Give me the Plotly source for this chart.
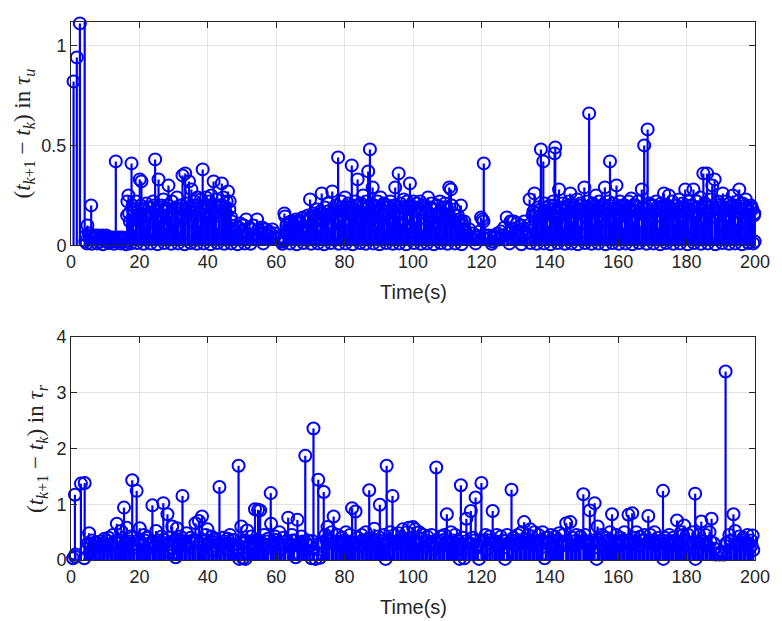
import plotly.graph_objects as go

# ---------------- data ----------------
# Top panel: (event time t_k [s], inter-event interval (t_{k+1}-t_k) in tau_u)
top_early = [(0.75, 0.82), (1.7, 0.94), (2.6, 1.11), (4.0, 1.12)]

top_seg_4_17 = [(4.2, 0.02), (4.4, 0.05), (4.8, 0.10), (5.2, 0.06), (5.6, 0.04), (5.9, 0.20),
                (6.3, 0.05), (6.7, 0.03), (7.1, 0.05), (7.5, 0.04), (7.9, 0.05), (8.3, 0.02),
                (8.7, 0.04), (9.1, 0.05), (9.5, 0.03), (9.9, 0.04), (10.3, 0.05), (10.7, 0.02),
                (11.1, 0.04), (11.5, 0.04), (11.9, 0.03), (12.3, 0.04), (12.7, 0.02), (13.1, 0.42),
                (13.5, 0.04), (13.9, 0.03), (14.3, 0.04), (14.7, 0.02), (15.1, 0.04), (15.5, 0.03),
                (15.9, 0.035), (16.3, 0.02)]

top_seg_17_47 = [(16.4, 0.15), (16.5, 0.22), (16.8, 0.25), (17.2, 0.12), (17.7, 0.41), (18.0, 0.20),
                 (18.5, 0.08), (19.0, 0.22), (19.5, 0.15), (20.1, 0.33), (20.6, 0.32), (21.0, 0.18),
                 (21.5, 0.10), (22.0, 0.21), (22.5, 0.14), (23.0, 0.19), (23.5, 0.06), (24.0, 0.22),
                 (24.6, 0.43), (25.0, 0.17), (25.6, 0.33), (26.0, 0.12), (26.5, 0.20), (27.0, 0.23),
                 (27.5, 0.09), (28.0, 0.18), (28.5, 0.30), (29.0, 0.15), (29.5, 0.22), (30.0, 0.11),
                 (30.5, 0.19), (31.0, 0.24), (31.5, 0.07), (32.0, 0.20), (32.6, 0.35), (33.0, 0.14),
                 (33.4, 0.36), (34.0, 0.21), (34.5, 0.32), (35.2, 0.28), (35.5, 0.12), (36.0, 0.22),
                 (36.5, 0.17), (37.0, 0.24), (37.5, 0.10), (38.0, 0.23), (38.5, 0.38), (39.0, 0.19),
                 (39.5, 0.24), (40.0, 0.13), (40.5, 0.22), (41.0, 0.25), (41.7, 0.32), (42.0, 0.16),
                 (42.5, 0.23), (43.0, 0.09), (43.5, 0.20), (44.1, 0.31), (44.5, 0.24), (45.0, 0.18),
                 (45.5, 0.22), (45.9, 0.27), (46.4, 0.22), (47.0, 0.12)]

top_fill_17_47 = [(17.0, 0.16), (18.2, 0.18), (19.3, 0.14), (20.4, 0.20), (21.3, 0.15), (22.3, 0.19),
                  (23.3, 0.16), (24.3, 0.20), (25.3, 0.15), (26.3, 0.19), (27.3, 0.17), (28.3, 0.20),
                  (29.3, 0.14), (30.3, 0.18), (31.3, 0.16), (32.3, 0.20), (33.3, 0.17), (34.3, 0.19),
                  (35.3, 0.15), (36.3, 0.20), (37.3, 0.16), (38.3, 0.19), (39.3, 0.17), (40.3, 0.20),
                  (41.3, 0.15), (42.3, 0.19), (43.3, 0.17), (44.3, 0.20), (45.3, 0.16), (46.3, 0.18),
                  (46.8, 0.14)]

top_seg_47_61 = [(47.5, 0.08), (48.0, 0.10), (48.5, 0.05), (49.0, 0.09), (49.5, 0.11), (50.0, 0.07),
                 (50.5, 0.10), (51.2, 0.13), (51.7, 0.06), (52.2, 0.09), (52.7, 0.08), (53.2, 0.10),
                 (53.7, 0.05), (54.4, 0.13), (54.9, 0.08), (55.4, 0.07), (55.9, 0.09), (56.4, 0.06),
                 (56.9, 0.08), (57.4, 0.05), (57.9, 0.07), (58.4, 0.06), (58.9, 0.08), (59.4, 0.04),
                 (59.9, 0.06), (60.4, 0.03), (60.9, 0.04), (61.4, 0.02)]

top_seg_62_116 = [(62.0, 0.02), (62.4, 0.16), (62.6, 0.145), (62.8, 0.06), (63.3, 0.11), (63.8, 0.08),
                  (64.3, 0.12), (64.8, 0.07), (65.3, 0.10), (65.8, 0.13), (66.3, 0.06), (66.8, 0.12),
                  (67.3, 0.09), (67.8, 0.14), (68.3, 0.07), (68.8, 0.12), (69.3, 0.15), (69.9, 0.23),
                  (70.4, 0.10), (70.9, 0.16), (71.4, 0.13), (71.9, 0.18), (72.4, 0.08), (72.9, 0.17),
                  (73.3, 0.26), (73.8, 0.12), (74.3, 0.19), (74.8, 0.15), (75.3, 0.21), (75.8, 0.09),
                  (76.4, 0.27), (76.9, 0.16), (77.4, 0.20), (78.1, 0.44), (78.6, 0.13), (79.1, 0.22),
                  (79.6, 0.18), (80.1, 0.24), (80.6, 0.11), (81.1, 0.21), (81.6, 0.17), (82.1, 0.40),
                  (82.6, 0.14), (83.1, 0.22), (83.8, 0.33), (84.3, 0.12), (84.8, 0.21), (85.4, 0.25),
                  (85.9, 0.16), (86.4, 0.22), (86.9, 0.37), (87.4, 0.48), (87.9, 0.13), (88.2, 0.29),
                  (88.7, 0.20), (89.2, 0.10), (89.7, 0.22), (90.5, 0.24), (91.0, 0.15), (91.5, 0.21),
                  (92.0, 0.08), (92.4, 0.20), (92.9, 0.17), (93.4, 0.22), (93.9, 0.12), (94.4, 0.20),
                  (94.8, 0.29), (95.3, 0.15), (95.8, 0.36), (96.3, 0.21), (96.8, 0.11), (97.3, 0.23),
                  (97.8, 0.18), (98.3, 0.22), (98.8, 0.09), (99.1, 0.31), (99.6, 0.19), (100.1, 0.22),
                  (100.6, 0.12), (101.1, 0.21), (101.6, 0.17), (102.1, 0.22), (102.6, 0.08), (103.1, 0.20),
                  (103.6, 0.16), (104.4, 0.24), (104.9, 0.13), (105.4, 0.21), (105.9, 0.18), (106.4, 0.10),
                  (106.9, 0.20), (107.4, 0.15), (107.9, 0.22), (108.4, 0.12), (108.9, 0.19), (109.4, 0.21),
                  (109.9, 0.14), (110.6, 0.29), (111.1, 0.28), (111.6, 0.12), (112.1, 0.18), (112.6, 0.09),
                  (113.1, 0.15), (113.6, 0.11), (114.0, 0.20), (114.5, 0.08), (115.0, 0.12), (115.5, 0.06)]

top_fill_62_116 = [(63.0, 0.10), (64.0, 0.11), (65.0, 0.09), (66.0, 0.12), (67.0, 0.11), (68.0, 0.13),
                   (69.0, 0.12), (70.1, 0.14), (71.1, 0.15), (72.1, 0.14), (73.1, 0.16), (74.1, 0.15),
                   (75.1, 0.17), (76.1, 0.16), (77.1, 0.18), (78.3, 0.17), (79.3, 0.19), (80.3, 0.17),
                   (81.3, 0.19), (82.3, 0.18), (83.3, 0.20), (84.1, 0.17), (85.1, 0.19), (86.1, 0.18),
                   (87.1, 0.20), (88.0, 0.17), (89.0, 0.19), (90.0, 0.18), (91.2, 0.20), (92.2, 0.17),
                   (93.1, 0.19), (94.1, 0.18), (95.1, 0.20), (96.1, 0.17), (97.1, 0.19), (98.1, 0.18),
                   (99.3, 0.20), (100.3, 0.17), (101.3, 0.19), (102.3, 0.18), (103.3, 0.20), (104.1, 0.17),
                   (105.1, 0.19), (106.1, 0.18), (107.1, 0.20), (108.1, 0.17), (109.1, 0.19), (110.1, 0.18),
                   (111.3, 0.20), (112.3, 0.15), (113.3, 0.13), (114.2, 0.12), (114.8, 0.10), (115.2, 0.08)]

top_seg_116_135 = [(116.0, 0.05), (116.5, 0.08), (117.0, 0.04), (117.5, 0.06), (118.0, 0.03), (118.5, 0.05),
                   (119.0, 0.04), (119.5, 0.07), (119.9, 0.14), (120.3, 0.13), (120.6, 0.12), (120.7, 0.41),
                   (121.2, 0.05), (121.7, 0.03), (122.2, 0.05), (122.7, 0.04), (123.2, 0.02), (123.7, 0.05),
                   (124.2, 0.04), (124.7, 0.06), (125.2, 0.03), (125.7, 0.07), (126.2, 0.05), (126.7, 0.09),
                   (127.4, 0.14), (127.9, 0.06), (128.5, 0.12), (129.0, 0.08), (129.5, 0.12), (130.0, 0.07),
                   (130.5, 0.11), (131.0, 0.05), (131.5, 0.10), (132.0, 0.08), (132.5, 0.12), (133.0, 0.06),
                   (133.5, 0.10), (134.1, 0.23), (134.6, 0.09)]

top_seg_135_200 = [(135.0, 0.15), (135.5, 0.26), (136.0, 0.12), (136.5, 0.19), (137.0, 0.08), (137.4, 0.48),
                   (137.8, 0.14), (138.1, 0.42), (138.5, 0.21), (139.0, 0.17), (139.5, 0.10), (140.0, 0.20),
                   (140.5, 0.15), (141.0, 0.22), (141.4, 0.46), (141.6, 0.49), (142.1, 0.13), (142.7, 0.28),
                   (143.2, 0.18), (143.7, 0.21), (144.2, 0.09), (144.7, 0.19), (145.2, 0.16), (145.6, 0.22),
                   (146.0, 0.26), (146.5, 0.12), (147.0, 0.20), (147.5, 0.17), (148.0, 0.23), (148.5, 0.10),
                   (149.0, 0.21), (149.4, 0.18), (150.1, 0.29), (150.6, 0.14), (151.0, 0.22), (151.5, 0.66),
                   (152.0, 0.17), (152.5, 0.21), (153.0, 0.11), (153.5, 0.25), (154.0, 0.18), (154.5, 0.22),
                   (155.0, 0.13), (155.5, 0.20), (156.1, 0.29), (156.6, 0.16), (157.1, 0.22), (157.6, 0.42),
                   (158.1, 0.12), (158.6, 0.21), (159.0, 0.18), (159.5, 0.30), (160.0, 0.14), (160.5, 0.22),
                   (161.0, 0.19), (161.5, 0.09), (162.0, 0.20), (162.5, 0.16), (163.0, 0.22), (163.8, 0.235),
                   (164.3, 0.12), (164.8, 0.20), (165.3, 0.17), (165.8, 0.22), (166.3, 0.10), (166.9, 0.28),
                   (167.3, 0.19), (167.6, 0.50), (168.1, 0.15), (168.6, 0.58), (169.1, 0.21), (169.6, 0.13),
                   (170.1, 0.20), (170.6, 0.17), (171.1, 0.22), (171.6, 0.09), (172.1, 0.19), (172.6, 0.21),
                   (173.4, 0.26), (173.9, 0.14), (174.4, 0.20), (174.8, 0.25), (175.3, 0.16), (175.8, 0.22),
                   (176.3, 0.11), (176.8, 0.20), (177.3, 0.18), (177.8, 0.23), (178.3, 0.13), (178.8, 0.21),
                   (179.6, 0.28), (180.1, 0.17), (180.6, 0.22), (181.1, 0.09), (181.6, 0.20), (182.0, 0.28),
                   (182.5, 0.15), (183.0, 0.22), (183.5, 0.19), (184.0, 0.24), (184.5, 0.12), (184.9, 0.36),
                   (185.4, 0.21), (186.0, 0.36), (186.5, 0.16), (187.0, 0.23), (187.5, 0.30), (188.2, 0.33),
                   (188.7, 0.14), (189.2, 0.22), (189.7, 0.19), (190.2, 0.10), (190.6, 0.26), (191.1, 0.18),
                   (191.6, 0.22), (192.1, 0.13), (192.6, 0.21), (193.0, 0.17), (193.5, 0.25), (194.0, 0.20),
                   (194.5, 0.11), (195.0, 0.22), (195.4, 0.28), (195.9, 0.16), (196.4, 0.21), (196.9, 0.12),
                   (197.3, 0.23), (197.8, 0.19), (198.3, 0.15), (198.8, 0.20), (199.2, 0.18), (199.7, 0.15),
                   (199.9, 0.02)]

top_fill_135_200 = [(135.2, 0.17), (136.2, 0.16), (137.2, 0.18), (138.3, 0.17), (139.2, 0.19), (140.2, 0.18),
                    (141.2, 0.20), (142.3, 0.17), (143.4, 0.19), (144.4, 0.18), (145.4, 0.20), (146.3, 0.17),
                    (147.2, 0.19), (148.2, 0.18), (149.2, 0.20), (150.3, 0.17), (151.2, 0.19), (152.2, 0.18),
                    (153.2, 0.20), (154.2, 0.17), (155.2, 0.19), (156.3, 0.18), (157.3, 0.20), (158.3, 0.17),
                    (159.2, 0.19), (160.2, 0.18), (161.2, 0.20), (162.2, 0.17), (163.3, 0.19), (164.1, 0.18),
                    (165.1, 0.20), (166.1, 0.17), (167.1, 0.19), (168.3, 0.18), (169.3, 0.20), (170.3, 0.17),
                    (171.3, 0.19), (172.3, 0.18), (173.1, 0.20), (174.1, 0.17), (175.1, 0.19), (176.1, 0.18),
                    (177.1, 0.20), (178.1, 0.17), (179.1, 0.19), (180.3, 0.18), (181.3, 0.20), (182.2, 0.17),
                    (183.2, 0.19), (184.2, 0.18), (185.2, 0.20), (186.2, 0.17), (187.2, 0.19), (188.4, 0.18),
                    (189.4, 0.20), (190.4, 0.17), (191.3, 0.19), (192.4, 0.18), (193.3, 0.20), (194.2, 0.17),
                    (195.2, 0.19), (196.2, 0.18), (197.1, 0.20), (198.1, 0.17), (199.0, 0.19), (199.8, 0.16)]

top_near_zero = [(4.6, 0.01), (6.0, 0.008), (7.7, 0.01), (9.3, 0.006), (11.0, 0.012), (12.6, 0.008),
                 (14.5, 0.01), (16.1, 0.006), (17.5, 0.01), (19.3, 0.012), (21.2, 0.008), (23.3, 0.01),
                 (25.3, 0.006), (27.3, 0.012), (29.3, 0.008), (31.3, 0.01), (33.2, 0.006), (35.0, 0.012),
                 (36.8, 0.008), (38.8, 0.01), (40.8, 0.006), (42.8, 0.012), (44.8, 0.008), (46.8, 0.01),
                 (48.7, 0.006), (50.8, 0.01), (52.5, 0.008), (56.2, 0.01), (61.8, 0.008), (64.0, 0.01),
                 (66.0, 0.006), (68.0, 0.012), (70.2, 0.008), (72.2, 0.01), (74.0, 0.006), (76.0, 0.012),
                 (78.3, 0.008), (80.3, 0.01), (82.3, 0.006), (84.5, 0.012), (86.2, 0.008), (88.4, 0.01),
                 (90.2, 0.006), (92.2, 0.012), (94.1, 0.008), (96.0, 0.01), (98.0, 0.006), (100.3, 0.012),
                 (102.3, 0.008), (104.1, 0.01), (106.1, 0.006), (108.1, 0.012), (110.1, 0.008), (112.3, 0.01),
                 (114.2, 0.006), (118.3, 0.01), (123.0, 0.008), (128.2, 0.01), (131.7, 0.006), (134.3, 0.012),
                 (136.2, 0.008), (138.3, 0.01), (140.2, 0.006), (142.3, 0.012), (144.4, 0.008), (146.3, 0.01),
                 (148.2, 0.006), (150.3, 0.012), (152.2, 0.008), (154.2, 0.01), (156.3, 0.006), (158.3, 0.012),
                 (160.2, 0.008), (162.2, 0.01), (164.1, 0.006), (166.1, 0.012), (168.3, 0.008), (170.3, 0.01),
                 (172.3, 0.006), (174.1, 0.012), (176.1, 0.008), (178.1, 0.01), (180.3, 0.006), (182.2, 0.012),
                 (184.2, 0.008), (186.2, 0.01), (188.4, 0.006), (190.4, 0.012), (192.4, 0.008), (194.2, 0.01),
                 (196.2, 0.006), (198.1, 0.012), (199.5, 0.01)]

# Bottom panel: (event time t_k [s], inter-event interval (t_{k+1}-t_k) in tau_r)
bot_seg_0_50 = [(0.6, 0.03), (1.15, 1.17), (1.2, 0.06), (1.3, 0.1), (2.9, 1.37), (3.9, 0.03), (4.0, 1.38),
                (4.5, 0.2), (5.0, 0.3), (5.3, 0.48), (5.6, 0.15), (6.2, 0.35), (6.8, 0.22), (7.4, 0.3),
                (8.0, 0.12), (8.6, 0.33), (9.2, 0.25), (9.8, 0.38), (10.4, 0.18), (11.0, 0.4), (11.6, 0.28),
                (12.2, 0.45), (12.8, 0.2), (13.4, 0.65), (14.0, 0.32), (14.6, 0.52), (15.2, 0.25),
                (15.5, 0.94), (16.3, 0.58), (16.8, 0.3), (17.4, 0.42), (17.9, 1.43), (18.5, 0.22),
                (19.2, 1.24), (19.6, 0.35), (20.1, 0.57), (20.7, 0.28), (21.3, 0.45), (21.9, 0.18),
                (22.5, 0.4), (23.1, 0.3), (23.8, 0.98), (24.4, 0.25), (24.9, 0.52), (25.5, 0.35),
                (26.1, 0.2), (26.5, 0.42), (27.0, 1.02), (27.6, 0.3), (28.2, 0.82), (28.8, 0.15),
                (29.6, 0.6), (30.2, 0.35), (30.6, 0.05), (31.0, 0.57), (31.6, 0.28), (32.0, 0.42),
                (32.6, 1.15), (33.2, 0.3), (33.8, 0.48), (34.4, 0.22), (35.0, 0.4), (35.6, 0.3),
                (36.4, 0.66), (37.0, 0.35), (37.4, 0.7), (38.3, 0.78), (38.9, 0.25), (39.4, 0.45),
                (39.9, 0.55), (40.5, 0.3), (41.1, 0.42), (41.7, 0.18), (42.3, 0.38), (42.9, 0.3),
                (43.4, 1.31), (44.0, 0.25), (44.6, 0.4), (45.2, 0.2), (45.8, 0.38), (46.5, 0.45),
                (47.1, 0.28), (47.7, 0.35), (48.3, 0.15), (49.0, 1.69), (49.2, 0.02), (49.8, 0.6)]

bot_seg_50_100 = [(50.3, 0.03), (50.6, 0.35), (51.0, 0.02), (51.5, 0.53), (52.1, 0.28), (52.7, 0.42),
                  (53.2, 0.2), (53.8, 0.91), (54.2, 0.35), (54.7, 0.9), (55.3, 0.89), (55.9, 0.3),
                  (56.5, 0.45), (57.0, 0.2), (57.6, 0.38), (58.4, 1.2), (58.5, 0.65), (59.1, 0.25),
                  (59.7, 0.42), (60.3, 0.3), (60.9, 0.5), (61.5, 0.2), (62.1, 0.4), (62.7, 0.32),
                  (63.5, 0.76), (64.0, 0.25), (64.6, 0.45), (65.2, 0.35), (65.7, 0.05), (66.2, 0.72),
                  (66.8, 0.3), (67.4, 0.42), (68.0, 0.2), (68.5, 1.87), (68.6, 0.19), (69.2, 0.35),
                  (69.8, 0.25), (70.3, 0.03), (70.9, 2.36), (71.5, 0.02), (72.3, 1.44), (72.8, 0.04),
                  (73.3, 0.3), (73.9, 1.22), (74.4, 0.45), (75.0, 0.59), (75.5, 0.35), (76.2, 0.5),
                  (76.8, 0.78), (77.4, 0.3), (78.0, 0.45), (78.6, 0.25), (79.2, 0.4), (79.8, 0.35),
                  (80.4, 0.5), (81.0, 0.28), (81.6, 0.45), (82.2, 0.93), (82.7, 0.3), (83.2, 0.87),
                  (83.8, 0.4), (84.4, 0.25), (85.0, 0.45), (85.6, 0.33), (86.2, 0.5), (86.7, 0.2),
                  (87.2, 1.25), (87.8, 0.38), (88.2, 0.3), (88.7, 0.56), (89.3, 0.25), (89.8, 0.42),
                  (90.3, 0.99), (90.9, 0.3), (91.5, 0.45), (92.0, 0.02), (92.3, 1.69), (92.8, 0.35),
                  (93.4, 0.5), (94.0, 1.15), (94.6, 0.45), (95.2, 0.3), (95.8, 0.48), (96.4, 0.35),
                  (97.0, 0.55), (97.6, 0.25), (98.2, 0.5), (98.8, 0.58), (99.4, 0.4)]

bot_seg_100_150 = [(100.0, 0.59), (100.6, 0.55), (101.2, 0.3), (101.8, 0.5), (102.4, 0.38), (103.0, 0.45),
                   (103.6, 0.25), (104.2, 0.42), (104.8, 0.3), (105.4, 0.45), (106.0, 0.2), (106.8, 1.66),
                   (107.4, 0.35), (108.0, 0.42), (108.6, 0.25), (109.2, 0.45), (109.9, 0.82), (110.5, 0.3),
                   (111.1, 0.5), (111.7, 0.35), (112.3, 0.45), (112.9, 0.22), (113.6, 0.02), (114.0, 1.34),
                   (114.6, 0.4), (115.0, 0.03), (115.6, 0.74), (116.2, 0.3), (116.9, 0.88), (117.5, 0.4),
                   (118.3, 1.12), (118.8, 0.25), (119.3, 0.02), (120.0, 1.38), (120.6, 0.35), (121.2, 0.45),
                   (121.8, 0.2), (122.4, 0.42), (123.3, 0.88), (123.9, 0.3), (124.5, 0.45), (125.1, 0.25),
                   (125.7, 0.42), (126.3, 0.35), (126.9, 0.02), (127.5, 0.45), (128.1, 0.3), (128.8, 1.26),
                   (129.4, 0.4), (130.0, 0.25), (130.6, 0.45), (131.2, 0.35), (131.8, 0.5), (132.5, 0.68),
                   (133.1, 0.3), (133.7, 0.45), (134.3, 0.55), (134.9, 0.3), (135.5, 0.5), (136.1, 0.25),
                   (136.7, 0.45), (137.3, 0.35), (137.9, 0.5), (138.5, 0.03), (139.1, 0.4), (139.7, 0.3),
                   (140.3, 0.45), (140.9, 0.2), (141.5, 0.42), (142.1, 0.35), (142.7, 0.48), (143.3, 0.25),
                   (143.9, 0.45), (144.8, 0.66), (145.4, 0.3), (146.0, 0.68), (146.6, 0.4), (147.2, 0.25),
                   (147.8, 0.45), (148.4, 0.3), (149.0, 0.42), (149.8, 1.18)]

bot_seg_150_200 = [(150.3, 0.45), (150.9, 0.3), (151.7, 0.89), (152.3, 0.35), (153.1, 1.02), (153.7, 0.02),
                   (154.0, 0.6), (154.6, 0.3), (155.2, 0.45), (155.8, 0.25), (156.4, 0.4), (157.0, 0.35),
                   (157.6, 0.5), (158.2, 0.82), (158.8, 0.3), (159.4, 0.45), (160.0, 0.25), (160.6, 0.4),
                   (161.2, 0.35), (161.8, 0.5), (162.4, 0.3), (163.0, 0.81), (163.5, 0.3), (164.1, 0.84),
                   (164.7, 0.4), (165.3, 0.5), (165.9, 0.25), (166.5, 0.42), (167.1, 0.35), (167.7, 0.45),
                   (168.3, 0.3), (168.8, 0.79), (169.4, 0.45), (170.0, 0.35), (170.6, 0.5), (171.2, 0.25),
                   (171.8, 0.4), (172.4, 0.3), (173.1, 1.24), (173.2, 0.02), (173.7, 0.4), (174.3, 0.3),
                   (174.9, 0.45), (175.5, 0.25), (176.1, 0.4), (176.7, 0.35), (177.2, 0.71), (177.8, 0.3),
                   (178.4, 0.5), (179.0, 0.45), (179.3, 0.62), (179.9, 0.3), (180.5, 0.45), (181.1, 0.25),
                   (181.7, 0.5), (182.5, 1.19), (182.6, 0.02), (183.1, 0.3), (183.7, 0.45), (184.3, 0.69),
                   (184.9, 0.3), (185.5, 0.45), (186.1, 0.25), (186.7, 0.5), (187.3, 0.74), (187.9, 0.3),
                   (188.5, 0.1), (189.1, 0.12), (189.7, 0.1), (190.3, 0.15), (190.9, 0.1), (191.4, 3.38),
                   (191.9, 0.3), (192.5, 0.45), (193.1, 0.35), (193.7, 0.82), (194.2, 0.52), (194.8, 0.3),
                   (195.4, 0.42), (196.0, 0.25), (196.6, 0.4), (197.2, 0.3), (197.8, 0.45), (198.4, 0.2),
                   (198.9, 0.35), (199.3, 0.44), (199.5, 0.18)]

bot_fill = [(5.9, 0.28), (7.1, 0.32), (8.3, 0.26), (9.5, 0.3), (10.7, 0.34), (11.9, 0.27), (13.1, 0.31),
            (14.3, 0.36), (15.8, 0.3), (17.1, 0.33), (18.2, 0.28), (20.4, 0.32), (21.6, 0.35), (22.8, 0.27),
            (24.1, 0.33), (25.8, 0.3), (27.3, 0.36), (28.5, 0.28), (29.9, 0.32), (31.3, 0.3), (32.3, 0.34),
            (33.5, 0.27), (34.7, 0.33), (35.9, 0.36), (37.7, 0.3), (39.1, 0.34), (40.2, 0.28), (41.4, 0.32),
            (42.6, 0.35), (43.7, 0.27), (44.9, 0.33), (46.1, 0.3), (47.4, 0.36), (48.6, 0.28), (50.0, 0.3),
            (51.3, 0.34), (52.4, 0.27), (53.5, 0.32), (55.0, 0.35), (56.2, 0.28), (57.3, 0.33), (58.8, 0.3),
            (60.0, 0.36), (61.2, 0.28), (62.4, 0.32), (63.8, 0.3), (64.9, 0.35), (66.5, 0.27), (67.7, 0.33),
            (68.9, 0.3), (70.6, 0.34), (72.0, 0.28), (73.6, 0.32), (74.7, 0.36), (76.5, 0.3), (77.7, 0.33),
            (78.9, 0.27), (80.1, 0.35), (81.3, 0.3), (82.5, 0.32), (84.1, 0.28), (85.3, 0.36), (86.5, 0.3),
            (87.5, 0.33), (89.0, 0.27), (90.6, 0.34), (91.8, 0.3), (93.1, 0.35), (94.3, 0.28), (95.5, 0.33),
            (96.7, 0.3), (97.9, 0.36), (99.1, 0.3), (100.3, 0.34), (101.5, 0.28), (102.7, 0.32), (103.9, 0.35),
            (105.1, 0.27), (106.3, 0.33), (107.7, 0.3), (108.9, 0.36), (110.2, 0.28), (111.4, 0.32),
            (112.6, 0.3), (113.3, 0.34), (114.3, 0.27), (115.3, 0.33), (116.6, 0.3), (117.8, 0.35),
            (119.0, 0.28), (120.3, 0.32), (121.5, 0.36), (122.7, 0.3), (124.2, 0.33), (125.4, 0.27),
            (126.6, 0.34), (127.8, 0.3), (129.1, 0.35), (130.3, 0.28), (131.5, 0.32), (132.8, 0.36),
            (134.0, 0.3), (135.2, 0.33), (136.4, 0.27), (137.6, 0.35), (138.8, 0.3), (140.0, 0.32),
            (141.2, 0.28), (142.4, 0.36), (143.6, 0.3), (145.1, 0.33), (146.3, 0.27), (147.5, 0.34),
            (148.7, 0.3), (150.0, 0.35), (151.2, 0.28), (152.0, 0.32), (152.7, 0.3), (154.3, 0.36),
            (155.5, 0.27), (156.7, 0.33), (157.9, 0.3), (159.1, 0.34), (160.3, 0.28), (161.5, 0.32),
            (162.7, 0.35), (163.8, 0.3), (165.0, 0.33), (166.2, 0.27), (167.4, 0.36), (168.6, 0.3),
            (169.7, 0.32), (170.9, 0.28), (172.1, 0.34), (173.4, 0.3), (174.6, 0.35), (175.8, 0.27),
            (177.0, 0.33), (178.1, 0.3), (179.6, 0.36), (180.8, 0.28), (182.0, 0.32), (183.4, 0.3),
            (184.6, 0.34), (185.8, 0.27), (187.0, 0.33), (188.2, 0.2), (191.6, 0.3), (192.8, 0.34),
            (194.5, 0.28), (195.7, 0.32), (196.9, 0.35), (198.1, 0.3), (199.0, 0.26)]

x_ticks = [0, 20, 40, 60, 80, 100, 120, 140, 160, 180, 200]
top_y_ticks = [0, 0.5, 1]
top_y_ticklabels = ["0", "0.5", "1"]
bot_y_ticks = [0, 1, 2, 3, 4]
bot_y_ticklabels = ["0", "1", "2", "3", "4"]

# ---------------- build ----------------
def collect(segments):
    t, v = [], []
    for seg in segments:
        for a, b in seg:
            t.append(a)
            v.append(b)
    return t, v


def stems(t, v):
    xs, ys = [], []
    for a, b in zip(t, v):
        xs += [a, a, None]
        ys += [0, b, None]
    return xs, ys


top_t, top_v = collect([top_early, top_seg_4_17, top_seg_17_47, top_fill_17_47, top_seg_47_61,
                        top_seg_62_116, top_fill_62_116, top_seg_116_135, top_seg_135_200,
                        top_fill_135_200, top_near_zero])
bot_t, bot_v = collect([bot_seg_0_50, bot_seg_50_100, bot_seg_100_150, bot_seg_150_200, bot_fill])

BLUE = "#0000ff"
fig = go.Figure()
for t, v, xa, ya in [(top_t, top_v, "x", "y"), (bot_t, bot_v, "x2", "y2")]:
    sx, sy = stems(t, v)
    fig.add_trace(go.Scatter(x=sx, y=sy, mode="lines", xaxis=xa, yaxis=ya,
                             line=dict(color=BLUE, width=2.2), hoverinfo="skip", showlegend=False))
    fig.add_trace(go.Scatter(x=t, y=v, mode="markers", xaxis=xa, yaxis=ya, cliponaxis=False,
                             marker=dict(symbol="circle-open", size=12, color=BLUE,
                                         line=dict(color=BLUE, width=2)),
                             showlegend=False))

AX = "#262626"
tickfont = dict(family="Liberation Sans, Arial, sans-serif", size=18, color=AX)
common = dict(showline=True, linecolor=AX, linewidth=1, mirror="ticks", ticks="inside",
              ticklen=6, tickwidth=1, tickcolor=AX, showgrid=True, gridcolor="#e3e3e3",
              gridwidth=1, zeroline=False, tickfont=tickfont)

top_dom = [0.5848, 1.0]
bot_dom = [0.0, 0.4145]
fig.update_layout(
    width=782, height=621,
    margin=dict(l=71, r=16, t=14, b=61),
    paper_bgcolor="white", plot_bgcolor="white",
    xaxis=dict(domain=[0, 1], anchor="y", range=[0, 200], tickvals=x_ticks, **common),
    yaxis=dict(domain=top_dom, anchor="x", range=[0, 1.117], tickvals=top_y_ticks,
               ticktext=top_y_ticklabels, **common),
    xaxis2=dict(domain=[0, 1], anchor="y2", range=[0, 200], tickvals=x_ticks, **common),
    yaxis2=dict(domain=bot_dom, anchor="x2", range=[0, 4], tickvals=bot_y_ticks,
                ticktext=bot_y_ticklabels, **common),
)

labfont = dict(family="Liberation Sans, Arial, sans-serif", size=20, color=AX)
serif = dict(family="Liberation Serif, DejaVu Serif, serif", size=23, color=AX)
fig.add_annotation(text="Time(s)", xref="paper", yref="paper", x=0.5, y=0.498,
                   xanchor="center", yanchor="middle", showarrow=False, font=labfont)
fig.add_annotation(text="Time(s)", xref="paper", yref="paper", x=0.5, y=-0.087,
                   xanchor="center", yanchor="middle", showarrow=False, font=labfont)
fig.add_annotation(text="(<i>t</i><sub><i>k</i>+1</sub> − <i>t<sub>k</sub></i>) in <i>τ<sub>u</sub></i>",
                   xref="paper", yref="paper", x=-0.069, y=(top_dom[0] + top_dom[1]) / 2,
                   textangle=-90, xanchor="center", yanchor="middle", showarrow=False, font=serif)
fig.add_annotation(text="(<i>t</i><sub><i>k</i>+1</sub> − <i>t<sub>k</sub></i>) in <i>τ<sub>r</sub></i>",
                   xref="paper", yref="paper", x=-0.049, y=(bot_dom[0] + bot_dom[1]) / 2,
                   textangle=-90, xanchor="center", yanchor="middle", showarrow=False, font=serif)

fig.write_html("out.html")
